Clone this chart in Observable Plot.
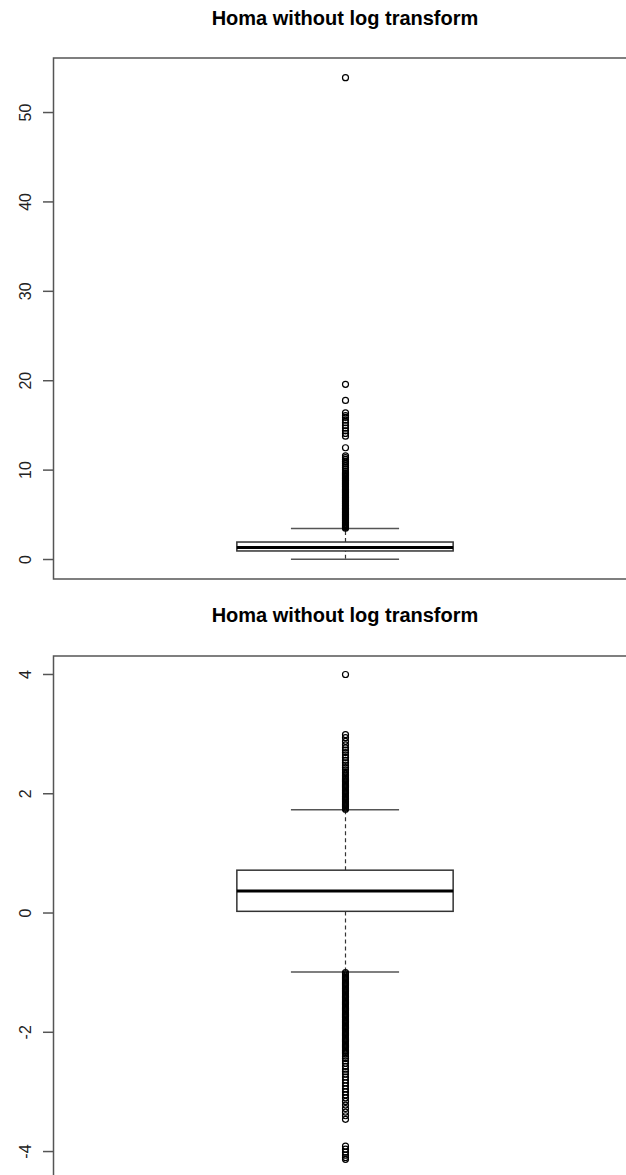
<!DOCTYPE html>
<html><head><meta charset="utf-8">
<script src="https://cdn.jsdelivr.net/npm/d3@7"></script>
<script src="https://cdn.jsdelivr.net/npm/@observablehq/plot@0.6"></script>
<style>
html,body{margin:0;padding:0;background:#fff;overflow:hidden;width:626px;}
.title{width:690px;text-align:center;font-family:"Liberation Sans",Arial,sans-serif;font-weight:bold;font-size:20px;color:#000;white-space:nowrap;}
svg{display:block;}
</style></head><body><div id="chart"></div>
<script>
// ---- Data ----
const titles = ["Homa without log transform", "Homa without log transform"];

// Panel 1: HOMA (raw scale)
const rawTicks = [0, 10, 20, 30, 40, 50];
const rawBox = {lo: 0.02, q1: 0.9, med: 1.35, q3: 1.9, hi: 3.47};
const rawOutliers = [53.9, 19.6, 17.8, 16.4, 16.1, 15.9, 15.6, 15.3, 15.0, 14.7, 14.4, 14.1, 13.8, 12.5,
  11.6, 11.4, 11.2, 11.0, 10.9, 10.7, 10.5, 10.3, 10.1, 9.9, 9.7,
  9.6, 9.5, 9.4, 9.3, 9.2, 9.1, 9.0, 8.9, 8.8, 8.7, 8.6, 8.5, 8.4, 8.3, 8.2, 8.1, 8.0,
  7.9, 7.8, 7.7, 7.6, 7.5, 7.4, 7.3, 7.2, 7.1, 7.0, 6.9, 6.8, 6.7, 6.6, 6.5, 6.4, 6.3, 6.2, 6.1, 6.0,
  5.9, 5.8, 5.7, 5.6, 5.5, 5.4, 5.3, 5.2, 5.1, 5.0, 4.9, 4.8, 4.7, 4.6, 4.5, 4.4, 4.3, 4.2, 4.1, 4.0,
  3.9, 3.8, 3.7, 3.6, 3.5];

// Panel 2: HOMA (log scale values)
const logTicks = [-4, -2, 0, 2, 4];
const logBox = {lo: -0.99, q1: 0.02, med: 0.37, q3: 0.71, hi: 1.73};
const logOutliersHigh = [4.0, 2.99, 2.94, 2.88, 2.82, 2.77, 2.73, 2.69, 2.65, 2.61, 2.56, 2.52, 2.48, 2.44, 2.40, 2.36, 2.33, 2.30,
  2.28, 2.26, 2.24, 2.22, 2.20, 2.18, 2.16, 2.14, 2.12, 2.10, 2.08, 2.06, 2.04, 2.02, 2.00,
  1.98, 1.96, 1.94, 1.92, 1.90, 1.88, 1.86, 1.84, 1.82, 1.80, 1.78, 1.76, 1.74];
const logOutliersLow = [-1.00, -1.02, -1.04, -1.06, -1.08, -1.10, -1.12, -1.14, -1.16, -1.18, -1.20, -1.22, -1.24, -1.26, -1.28,
  -1.30, -1.32, -1.34, -1.36, -1.38, -1.40, -1.42, -1.44, -1.46, -1.48, -1.50, -1.52, -1.54, -1.56, -1.58,
  -1.60, -1.62, -1.64, -1.66, -1.68, -1.70, -1.72, -1.74, -1.76, -1.78, -1.80, -1.82, -1.84, -1.86, -1.88,
  -1.90, -1.92, -1.94, -1.96, -1.98, -2.00, -2.02, -2.04, -2.06, -2.08, -2.10, -2.12, -2.14, -2.16, -2.18,
  -2.20, -2.22, -2.24, -2.26, -2.28, -2.30, -2.32, -2.34, -2.36,
  -2.40, -2.44, -2.48, -2.52, -2.57, -2.62, -2.66, -2.70, -2.75, -2.80, -2.85, -2.90, -2.95, -3.00,
  -3.05, -3.10, -3.16, -3.22, -3.28, -3.34, -3.40, -3.46,
  -3.91, -3.96, -4.01, -4.06, -4.10, -4.13];

// ---- Drawing ----
const FONT = "'Liberation Sans', Arial, sans-serif";

function boxPanel({box, outliers, ticks, yDomain, height, marginTop, marginBottom}) {
  const b = [box];
  return Plot.plot({
    width: 640, height, marginLeft: 53, marginRight: 3, marginTop, marginBottom,
    style: {maxWidth: "none", overflow: "visible", background: "white", fontFamily: FONT},
    x: {domain: [0.46, 1.54], axis: null},
    y: {domain: yDomain, axis: null},
    marks: [
      Plot.axisY({anchor: "left", ticks, tickSize: 10, tickPadding: 13, tickRotate: -90,
        fontSize: 16, stroke: "#555", strokeWidth: 1.5, fill: "#222", tickFormat: d => String(d)}),
      Plot.ruleX(b, {x: () => 1, y1: "q3", y2: "hi", stroke: "#333", strokeWidth: 1.2, strokeDasharray: "4,3"}),
      Plot.ruleX(b, {x: () => 1, y1: "lo", y2: "q1", stroke: "#333", strokeWidth: 1.2, strokeDasharray: "4,3"}),
      Plot.ruleY(b, {y: "hi", x1: () => 0.9, x2: () => 1.1, stroke: "#555", strokeWidth: 1.5}),
      Plot.ruleY(b, {y: "lo", x1: () => 0.9, x2: () => 1.1, stroke: "#555", strokeWidth: 1.5}),
      Plot.rect(b, {x1: () => 0.8, x2: () => 1.2, y1: "q1", y2: "q3", fill: "white", stroke: "#333", strokeWidth: 1.5}),
      Plot.ruleY(b, {y: "med", x1: () => 0.8, x2: () => 1.2, stroke: "#000", strokeWidth: 3}),
      Plot.dot(outliers, {x: () => 1, y: d => d, r: 3, stroke: "#000", strokeWidth: 1.2, fill: "none"}),
      Plot.frame({stroke: "#555", strokeWidth: 1.5})
    ]
  });
}

const root = document.getElementById("chart");
function addTitle(text, h) {
  const t = document.createElement("div");
  t.className = "title";
  t.style.height = h + "px";
  t.style.lineHeight = h + "px";
  t.textContent = text;
  root.appendChild(t);
}

addTitle(titles[0], 37);
root.appendChild(boxPanel({box: rawBox, outliers: rawOutliers, ticks: rawTicks,
  yDomain: [-2.18, 56.1], height: 559, marginTop: 20.5, marginBottom: 17.5}));
addTitle(titles[1], 38);
root.appendChild(boxPanel({box: logBox, outliers: logOutliersHigh.concat(logOutliersLow), ticks: logTicks,
  yDomain: [-4.41, 4.31], height: 547, marginTop: 21.5, marginBottom: 5.5}));
</script>
</body></html>
